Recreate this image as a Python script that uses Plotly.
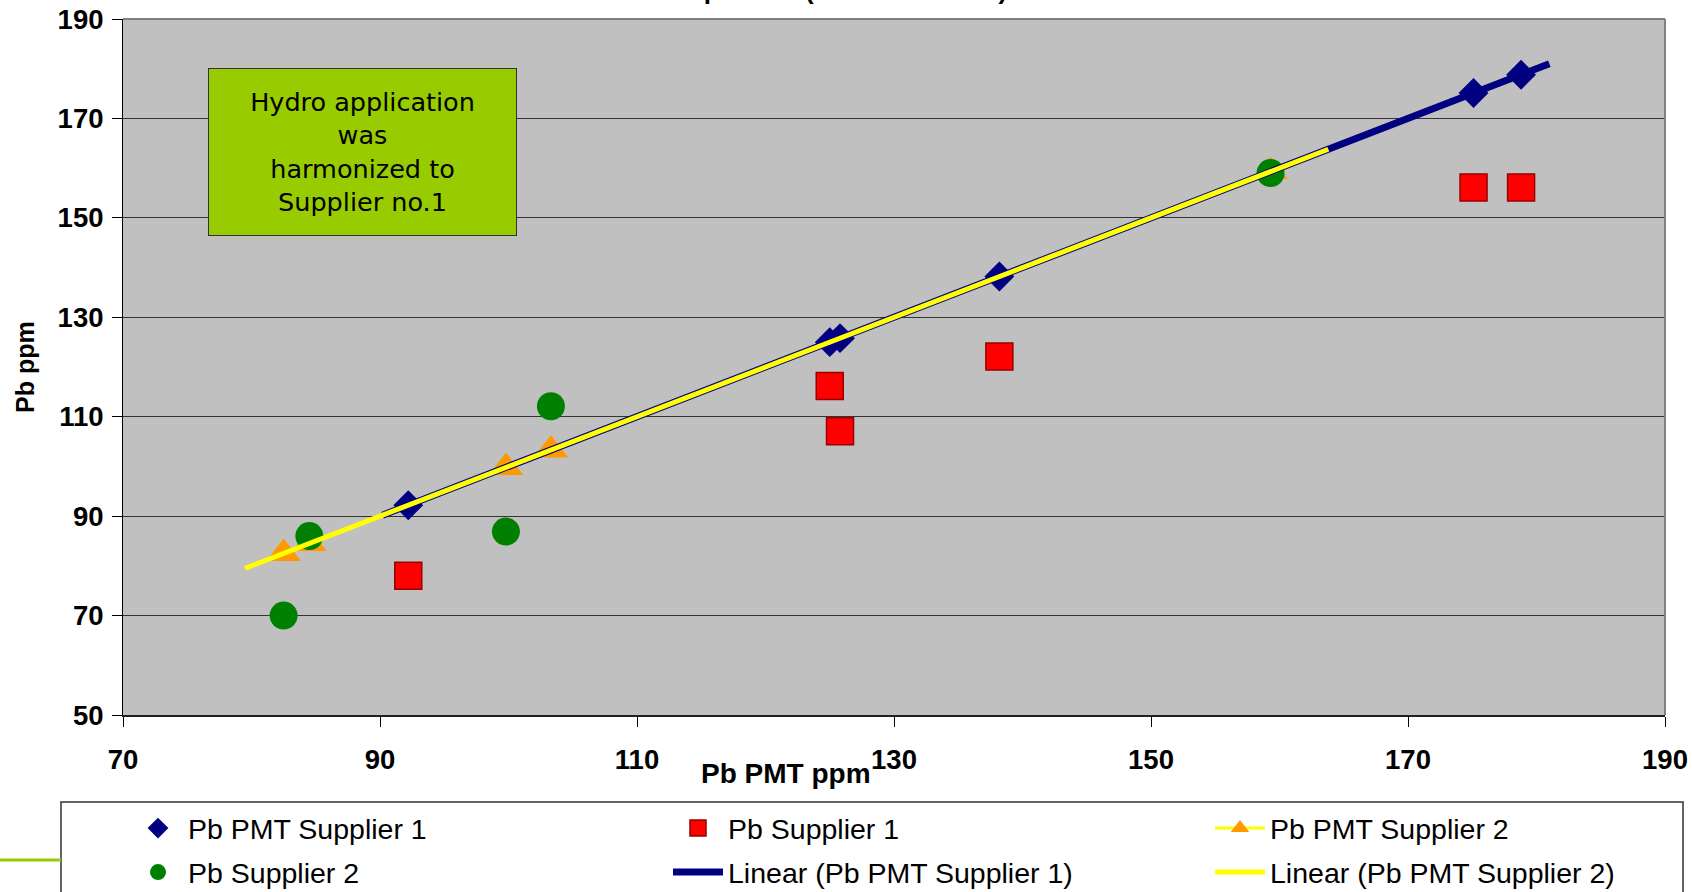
import numpy as np
import plotly.graph_objects as go

# ---------------- data ----------------
# Supplier 1: Pb by PMT (x and y are the same PMT values) and Pb reported by supplier
pmt_supplier1 = [92.2, 125.0, 125.8, 138.2, 175.1, 178.8]
pb_supplier1 = [78.0, 116.2, 107.1, 122.1, 156.1, 156.1]

# Supplier 2
pmt_supplier2 = [82.5, 84.5, 99.8, 103.3, 159.3]
pb_supplier2 = [70.0, 86.0, 86.9, 112.1, 159.0]

# Excel-style trendline forecast (backward, forward) in x units
trend1_forecast = (2.0, 2.2)
trend2_forecast = (3.0, 4.5)

x_ticks = [70, 90, 110, 130, 150, 170, 190]
y_ticks = [50, 70, 90, 110, 130, 150, 170, 190]

names = ["Pb PMT Supplier 1", "Pb Supplier 1", "Pb PMT Supplier 2",
         "Pb Supplier 2", "Linear (Pb PMT Supplier 1)", "Linear (Pb PMT Supplier 2)"]

title_text = "Comparison (Pb PMT vs Lab)"
note_text = "Hydro application<br>was<br>harmonized to<br>Supplier no.1"

# ---------------- styles ----------------
NAVY = "#000080"
RED = "#FF0000"
ORANGE = "#FF9900"
GREEN = "#008000"
YELLOW = "#FFFF00"
FONT = "Liberation Sans, Arial, sans-serif"


def trend(xs, forecast):
    xs = np.asarray(xs, dtype=float)
    slope, intercept = np.polyfit(xs, xs, 1)
    xe = np.array([xs.min() - forecast[0], xs.max() + forecast[1]])
    return xe, slope * xe + intercept


t1x, t1y = trend(pmt_supplier1, trend1_forecast)
t2x, t2y = trend(pmt_supplier2, trend2_forecast)

fig = go.Figure()

fig.add_trace(go.Scatter(
    x=pmt_supplier1, y=pmt_supplier1, mode="markers", name=names[0],
    marker=dict(symbol="diamond", size=23, color=NAVY, line=dict(width=0)),
    legend="legend", legendgroup="a"))
fig.add_trace(go.Scatter(
    x=pmt_supplier1, y=pb_supplier1, mode="markers", name=names[1],
    marker=dict(symbol="square", size=27, color=RED, line=dict(width=1.5, color="#990000")),
    legend="legend2", legendgroup="b"))
fig.add_trace(go.Scatter(
    x=sorted(pmt_supplier2), y=sorted(pmt_supplier2), mode="lines+markers", name=names[2],
    line=dict(color=YELLOW, width=3),
    marker=dict(symbol="triangle-up", size=30, color=ORANGE, line=dict(width=0)),
    legend="legend3", legendgroup="c"))
fig.add_trace(go.Scatter(
    x=pmt_supplier2, y=pb_supplier2, mode="markers", name=names[3],
    marker=dict(symbol="circle", size=28, color=GREEN, line=dict(width=0)),
    legend="legend", legendgroup="d"))
fig.add_trace(go.Scatter(
    x=t1x, y=t1y, mode="lines", name=names[4],
    line=dict(color=NAVY, width=7),
    legend="legend2", legendgroup="e"))
fig.add_trace(go.Scatter(
    x=t2x, y=t2y, mode="lines", name=names[5],
    line=dict(color=YELLOW, width=5),
    legend="legend3", legendgroup="f"))

W, H = 1692, 892
L, R, T, B = 123, 27, 19, 177
pw = W - L - R
ph = H - T - B


def px_x(p):
    return (p - L) / pw


def px_y(p):
    return (H - B - p) / ph


legend_common = dict(
    orientation="v", xanchor="left", yanchor="top", y=px_y(803),
    font=dict(family=FONT, size=28.5, color="black"),
    bgcolor="rgba(0,0,0,0)", borderwidth=0, itemwidth=50,
    tracegroupgap=4, itemclick=False,
)

fig.update_layout(
    width=W, height=H,
    margin=dict(l=L, r=R, t=T, b=B, autoexpand=False),
    paper_bgcolor="white",
    plot_bgcolor="#C0C0C0",
    font=dict(family=FONT, color="black"),
    legend=dict(legend_common, x=px_x(128)),
    legend2=dict(legend_common, x=px_x(668)),
    legend3=dict(legend_common, x=px_x(1210)),
    xaxis=dict(
        range=[70, 190], tickvals=x_ticks, ticktext=[str(v) for v in x_ticks],
        showgrid=False, zeroline=False, showline=True, linecolor="#202020", linewidth=1.5,
        ticks="outside", ticklen=10, tickcolor="black", tickwidth=1,
        tickfont=dict(family=FONT, size=27.5, color="black", weight="bold"),
        ticklabelstandoff=9,
    ),
    yaxis=dict(
        range=[50, 190], tickvals=y_ticks, ticktext=[str(v) for v in y_ticks],
        showgrid=True, gridcolor="#333333", gridwidth=1, zeroline=False,
        showline=True, linecolor="black", linewidth=1,
        ticks="outside", ticklen=10, tickcolor="black", tickwidth=1,
        tickfont=dict(family=FONT, size=27.5, color="black", weight="bold"),
        ticklabelstandoff=3,
    ),
    showlegend=True,
)

# plot-area top & right borders (gray)
fig.add_shape(type="line", xref="paper", yref="paper", x0=0, x1=1, y0=1, y1=1,
              line=dict(color="#808080", width=2), layer="above")
fig.add_shape(type="line", xref="paper", yref="paper", x0=1, x1=1, y0=0, y1=1,
              line=dict(color="#808080", width=2), layer="above")
# legend frame
fig.add_shape(type="rect", xref="paper", yref="paper",
              x0=px_x(61), x1=px_x(1683), y0=px_y(802), y1=px_y(905),
              line=dict(color="#333333", width=1.5), fillcolor="rgba(0,0,0,0)", layer="above")
# slide decoration line at left
fig.add_shape(type="line", xref="paper", yref="paper",
              x0=px_x(0), x1=px_x(61), y0=px_y(860), y1=px_y(860),
              line=dict(color="#99CC00", width=3), layer="above")

# axis titles
fig.add_annotation(text="<b>Pb PMT ppm</b>", xref="paper", yref="paper",
                   x=px_x(786), y=px_y(774), xanchor="center", yanchor="middle",
                   showarrow=False, font=dict(family=FONT, size=28, color="black"))
fig.add_annotation(text="<b>Pb ppm</b>", xref="paper", yref="paper",
                   x=px_x(25), y=px_y(367), xanchor="center", yanchor="middle",
                   showarrow=False, textangle=-90,
                   font=dict(family=FONT, size=25, color="black"))

# clipped chart title (only descenders visible at the top edge)
fig.add_annotation(text="<b>" + title_text + "</b>", xref="paper", yref="paper",
                   x=px_x(826), y=1, xanchor="center", yanchor="middle", yshift=T + 10,
                   showarrow=False, font=dict(family=FONT, size=26, color="black"))

# green note box
fig.add_annotation(text=note_text, xref="paper", yref="paper",
                   x=px_x(362.5), y=px_y(152), xanchor="center", yanchor="middle",
                   showarrow=False, width=305, height=164, align="center", valign="middle",
                   bgcolor="#99CC00", bordercolor="#333333", borderwidth=1, borderpad=1,
                   font=dict(family="DejaVu Sans, Verdana, sans-serif", size=25.5, color="black"))

fig.write_html(
    "out.html",
    config={"displayModeBar": False},
    post_script="document.body.style.margin='0';document.body.style.overflow='hidden';",
)
